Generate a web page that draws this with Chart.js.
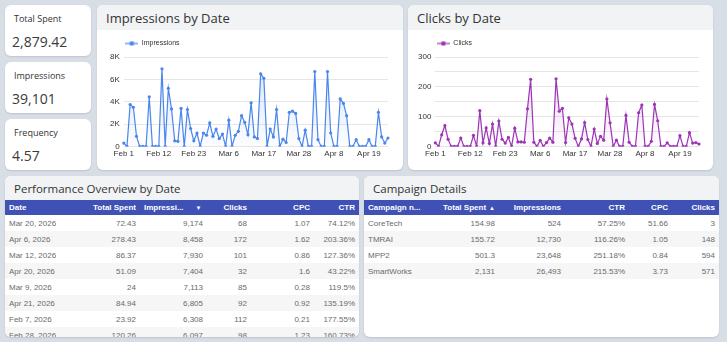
<!DOCTYPE html>
<html>
<head>
<meta charset="utf-8">
<script src="https://cdn.jsdelivr.net/npm/chart.js@4.4.1/dist/chart.umd.min.js"></script>
<style>
  body { margin:0; width:727px; height:342px; background:#d8dee6; font-family:'Open Sans',sans-serif; overflow:hidden; position:relative; }
  .card { position:absolute; background:#fff; border-radius:6px; box-shadow:0 1px 2px rgba(0,0,0,0.12); overflow:hidden; }
  .kpi .lbl { position:absolute; left:9px; top:7px; font-size:9px; color:#333; }
  .kpi .val { position:absolute; left:7px; top:27px; font-size:14px; color:#3a3a3a; }
  .head { height:25px; background:#f1f3f5; font-size:13px; color:#333; padding-left:9px; line-height:27px; }
  .head.small { height:24px; font-size:11.5px; line-height:26px; }
  .plot { position:absolute; }
  table { border-collapse:collapse; font-family:'Liberation Sans',Arial,sans-serif; font-size:8px; table-layout:fixed; }
  th { background:#3f51b5; color:#fff; font-weight:bold; height:15px; padding:0 4px; text-align:right; white-space:nowrap; overflow:hidden; }
  td { height:16px; padding:0 4px; text-align:right; color:#6a6a6a; white-space:nowrap; }
  tr:nth-child(even) td { background:#f6f6f6; }
  th:first-child, td:first-child { text-align:left; }
  .arrow { font-size:6px; padding-left:3px; }
</style>
</head>
<body>

<div class="card kpi" style="left:5px;top:5px;width:86px;height:51px"><div class="lbl">Total Spent</div><div class="val">2,879.42</div></div>
<div class="card kpi" style="left:5px;top:62px;width:86px;height:51px"><div class="lbl">Impressions</div><div class="val">39,101</div></div>
<div class="card kpi" style="left:5px;top:119px;width:86px;height:51px"><div class="lbl">Frequency</div><div class="val">4.57</div></div>

<div class="card" style="left:97px;top:5px;width:306px;height:165px">
  <div class="head">Impressions by Date</div>
  <div class="plot" style="left:3px;top:25px;width:297px;height:132px"><canvas id="impChart"></canvas></div>
</div>

<div class="card" style="left:408px;top:5px;width:305px;height:165px">
  <div class="head">Clicks by Date</div>
  <div class="plot" style="left:3px;top:25px;width:297px;height:132px"><canvas id="clkChart"></canvas></div>
</div>

<div class="card" style="left:5px;top:176px;width:354px;height:161px">
  <div class="head small">Performance Overview by Date</div>
  <table id="perfTable" style="width:354px">
    <colgroup><col style="width:84px"><col style="width:51px"><col style="width:67px"><col style="width:44px"><col style="width:63px"><col style="width:45px"></colgroup>
    <thead><tr><th>Date</th><th>Total Spent</th><th style="text-align:left">Impressi...<span class="arrow" style="padding-left:12px">&#9660;</span></th><th>Clicks</th><th>CPC</th><th>CTR</th></tr></thead>
    <tbody></tbody>
  </table>
</div>

<div class="card" style="left:364px;top:176px;width:355px;height:161px">
  <div class="head small">Campaign Details</div>
  <table id="campTable" style="width:355px">
    <colgroup><col style="width:68px"><col style="width:67px"><col style="width:66px"><col style="width:64px"><col style="width:43px"><col style="width:47px"></colgroup>
    <thead><tr><th>Campaign n...</th><th>Total Spent<span class="arrow">&#9650;</span></th><th>Impressions</th><th>CTR</th><th>CPC</th><th>Clicks</th></tr></thead>
    <tbody></tbody>
  </table>
</div>

<script>
// daily series, Feb 1 - Apr 25 2026
const startDate = new Date(2026, 1, 1);
const dayCount = 84;
const impressions = [300, 0, 3750, 3500, 900, 0, 0, 0, 4440, 0,
  0, 0, 6940, 0, 5200, 3350, 500, 450, 3400, 0,
  3300, 1600, 500, 1200, 0, 1200, 1000, 2100, 900, 1550,
  700, 1100, 0, 2350, 0, 1000, 1350, 2750, 2150, 1050,
  3900, 850, 700, 6500, 6100, 0, 1550, 850, 3300, 0,
  650, 350, 3050, 3150, 2950, 700, 0, 1450, 0, 0,
  6700, 600, 0, 0, 6700, 1200, 0, 0, 4250, 3850,
  2750, 0, 0, 600, 0, 0, 0, 600, 0, 0,
  3050, 850, 300, 750];
const clicks = [12, 0, 39, 70, 24, 0, 0, 0, 28, 0,
  0, 0, 37, 0, 120, 12, 62, 10, 75, 0,
  85, 24, 11, 30, 0, 61, 15, 15, 14, 126,
  225, 14, 0, 20, 0, 13, 28, 14, 227, 118,
  128, 13, 96, 75, 27, 0, 25, 80, 23, 0,
  58, 10, 34, 21, 159, 79, 0, 21, 0, 0,
  104, 14, 0, 0, 113, 139, 0, 0, 17, 141,
  86, 0, 0, 12, 0, 0, 0, 36, 0, 0,
  46, 11, 13, 8];
const impTicks = ['0', '2K', '4K', '6K', '8K'];
const clkTicks = ['0', '100', '200', '300'];

const perfDates = ['Mar 20, 2026', 'Apr 6, 2026', 'Mar 12, 2026', 'Apr 20, 2026', 'Mar 9, 2026', 'Apr 21, 2026', 'Feb 7, 2026', 'Feb 28, 2026'];
const perfSpent = ['72.43', '278.43', '86.37', '51.09', '24', '84.94', '23.92', '120.26'];
const perfImpr = ['9,174', '8,458', '7,930', '7,404', '7,113', '6,805', '6,308', '6,097'];
const perfClicks = ['68', '172', '101', '32', '85', '92', '112', '98'];
const perfCpc = ['1.07', '1.62', '0.86', '1.6', '0.28', '0.92', '0.21', '1.23'];
const perfCtr = ['74.12%', '203.36%', '127.36%', '43.22%', '119.5%', '135.19%', '177.55%', '160.73%'];

const campNames = ['CoreTech', 'TMRAI', 'MPP2', 'SmartWorks'];
const campSpent = ['154.98', '155.72', '501.3', '2,131'];
const campImpr = ['524', '12,730', '23,648', '26,493'];
const campCtr = ['57.25%', '116.26%', '251.18%', '215.53%'];
const campCpc = ['51.66', '1.05', '0.84', '3.73'];
const campClicks = ['3', '148', '594', '571'];

const months = ['Jan', 'Feb', 'Mar', 'Apr', 'May', 'Jun', 'Jul', 'Aug', 'Sep', 'Oct', 'Nov', 'Dec'];
const dates = [];
for (let i = 0; i < dayCount; i++) {
  const d = new Date(startDate.getTime());
  d.setDate(d.getDate() + i);
  dates.push(months[d.getMonth()] + ' ' + d.getDate());
}

function fillRows(id, cols) {
  const body = document.querySelector('#' + id + ' tbody');
  cols[0].forEach((_, r) => {
    const tr = document.createElement('tr');
    cols.forEach(c => {
      const td = document.createElement('td');
      td.textContent = c[r];
      tr.appendChild(td);
    });
    body.appendChild(tr);
  });
}
fillRows('perfTable', [perfDates, perfSpent, perfImpr, perfClicks, perfCpc, perfCtr]);
fillRows('campTable', [campNames, campSpent, campImpr, campCtr, campCpc, campClicks]);

// little line-with-square marker for the legend
function legendMarker(color) {
  const c = document.createElement('canvas');
  c.width = 13; c.height = 6;
  const g = c.getContext('2d');
  g.strokeStyle = color; g.lineWidth = 1.2;
  g.beginPath(); g.moveTo(0, 3); g.lineTo(13, 3); g.stroke();
  g.fillStyle = color; g.fillRect(4.5, 1, 4, 4);
  return c;
}

// line the legend up with the left edge of the plot instead of the canvas
const legendToPlot = {
  id: 'legendToPlot',
  afterLayout(chart) {
    const lg = chart.legend;
    const dx = chart.chartArea.left + 1.5 - (lg.left + lg.options.labels.padding);
    lg.left += dx;
    lg.right += dx;
  }
};

Chart.defaults.font.family = "'Liberation Sans', Arial, sans-serif";
Chart.defaults.font.size = 8;
Chart.defaults.color = '#333';

function lineChart(id, label, values, color, rgb, max, step, tickLabels, padL) {
  const labelEvery = max / (tickLabels.length - 1);
  return new Chart(document.getElementById(id), {
    type: 'line',
    data: {
      labels: dates,
      datasets: [{
        label: label,
        data: values,
        borderColor: color,
        borderWidth: 1.2,
        pointRadius: 1.6,
        pointBackgroundColor: color,
        pointBorderWidth: 0,
        tension: 0,
        fill: 'origin',
        backgroundColor: ctx => {
          const area = ctx.chart.chartArea;
          if (!area) return 'rgba(' + rgb + ',0.1)';
          const grad = ctx.chart.ctx.createLinearGradient(0, area.top, 0, area.bottom);
          grad.addColorStop(0, 'rgba(' + rgb + ',0.22)');
          grad.addColorStop(1, 'rgba(' + rgb + ',0.02)');
          return grad;
        }
      }]
    },
    options: {
      responsive: true,
      maintainAspectRatio: false,
      animation: false,
      layout: { padding: { left: padL, right: 9, top: 0, bottom: 0 } },
      plugins: {
        legend: {
          display: true,
          position: 'top',
          align: 'start',
          labels: {
            usePointStyle: true,
            pointStyle: legendMarker(color),
            pointStyleWidth: 13,
            boxHeight: 6,
            padding: 10,
            font: { size: 7 },
            color: '#333'
          }
        },
        tooltip: { enabled: false }
      },
      scales: {
        x: {
          grid: { display: false, drawTicks: false },
          border: { display: false },
          ticks: {
            autoSkip: false,
            maxRotation: 0,
            padding: 3,
            callback: (v, i) => (i % 11 === 0 ? dates[i] : '')
          }
        },
        y: {
          min: 0,
          max: max,
          border: { display: false },
          grid: { color: '#e6e6e6', drawTicks: false },
          ticks: {
            stepSize: step,
            padding: 4,
            callback: v => (v % labelEvery === 0 ? tickLabels[v / labelEvery] : '')
          }
        }
      }
    },
    plugins: [legendToPlot]
  });
}

lineChart('impChart', 'Impressions', impressions, '#4a86ec', '74,134,236', 8000, 1000, impTicks, 6);
lineChart('clkChart', 'Clicks', clicks, '#9c36b5', '156,54,181', 300, 50, clkTicks, 3);
</script>
</body>
</html>
